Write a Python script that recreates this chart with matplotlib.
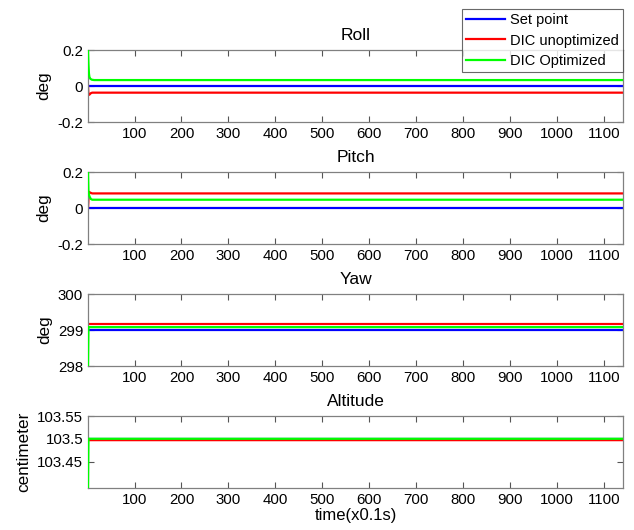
import matplotlib
matplotlib.use('Agg')
import matplotlib.pyplot as plt

plt.rcParams['font.family'] = ['Liberation Sans', 'DejaVu Sans']

# Roll (deg), time in x0.1s, only the points where the curves change
roll_t_set = [1, 1140]
roll_set = [0.0, 0.0]
roll_t_unopt = [1, 2, 4, 7, 10, 1140]
roll_unopt = [0.0, -0.05, -0.048, -0.04, -0.037, -0.037]
roll_t_opt = [1, 2, 3, 4, 6, 9, 14, 1140]
roll_opt = [0.2, 0.12, 0.07, 0.05, 0.04, 0.035, 0.033, 0.033]

# Pitch (deg)
pitch_t_set = [1, 1140]
pitch_set = [0.0, 0.0]
pitch_t_unopt = [1, 3, 6, 10, 1140]
pitch_unopt = [0.0, 0.09, 0.085, 0.081, 0.081]
pitch_t_opt = [1, 2, 4, 7, 10, 1140]
pitch_opt = [0.2, 0.09, 0.065, 0.05, 0.046, 0.046]

# Yaw (deg)
yaw_t_set = [1, 1140]
yaw_set = [299.0, 299.0]
yaw_t_unopt = [1, 2, 1140]
yaw_unopt = [299.17, 299.17, 299.17]
yaw_t_opt = [1, 2, 1140]
yaw_opt = [298.0, 299.08, 299.08]

# Altitude (centimeter)
alt_t_set = [1, 1140]
alt_set = [103.5, 103.5]
alt_t_unopt = [1, 2, 1140]
alt_unopt = [103.502, 103.497, 103.497]
alt_t_opt = [1, 2, 1140]
alt_opt = [103.392, 103.5, 103.5]

titles = ["Roll", "Pitch", "Yaw", "Altitude"]
ylabels = ["deg", "deg", "deg", "centimeter"]
ylims = [(-0.2, 0.2), (-0.2, 0.2), (298, 300), (103.392, 103.55)]
yticks = [[-0.2, 0, 0.2], [-0.2, 0, 0.2], [298, 299, 300], [103.45, 103.5, 103.55]]
yticklabels = [["-0.2", "0", "0.2"], ["-0.2", "0", "0.2"], ["298", "299", "300"],
               ["103.45", "103.5", "103.55"]]
xticks = [100, 200, 300, 400, 500, 600, 700, 800, 900, 1000, 1100]

series = [
    [(roll_t_set, roll_set), (roll_t_unopt, roll_unopt), (roll_t_opt, roll_opt)],
    [(pitch_t_set, pitch_set), (pitch_t_unopt, pitch_unopt), (pitch_t_opt, pitch_opt)],
    [(yaw_t_set, yaw_set), (yaw_t_unopt, yaw_unopt), (yaw_t_opt, yaw_opt)],
    [(alt_t_set, alt_set), (alt_t_unopt, alt_unopt), (alt_t_opt, alt_opt)],
]
names = ["Set point", "DIC unoptimized", "DIC Optimized"]
colors = ["#0000ff", "#ff0000", "#00ff00"]

fig = plt.figure(figsize=(6.34, 5.30), dpi=100)
left, width, height = 88 / 634, 535 / 634, 72 / 530
bottoms = [1 - 122 / 530, 1 - 244 / 530, 1 - 366 / 530, 1 - 488 / 530]

handles = []
for i in range(4):
    ax = fig.add_axes([left, bottoms[i], width, height])
    for j, (tt, yy) in enumerate(series[i]):
        ln, = ax.plot(tt, yy, color=colors[j], lw=1.6, zorder=2 + (j == 2))
        if i == 0:
            handles.append(ln)
    ax.set_xlim(1, 1140)
    ax.set_ylim(*ylims[i])
    ax.set_xticks(xticks)
    ax.set_yticks(yticks[i])
    ax.set_yticklabels(yticklabels[i])
    ax.set_title(titles[i], fontsize=12.5, pad=7)
    ax.set_ylabel(ylabels[i], fontsize=12.3, labelpad=4)
    ax.tick_params(direction='in', top=True, right=True, length=4,
                   labelsize=10.8, color='#555555', width=0.8)
    for sp in ax.spines.values():
        sp.set_color('#808080')
        sp.set_linewidth(0.9)
    if i == 3:
        ax.set_xlabel("time(x0.1s)", fontsize=12, labelpad=1)

leg = fig.legend(handles, names, loc='upper right', bbox_to_anchor=(623 / 634, 1 - 9 / 530),
                 fontsize=10.5, frameon=True, fancybox=False, borderpad=0.3,
                 labelspacing=0.42, handlelength=2.7, handletextpad=0.3, borderaxespad=0)
leg.get_frame().set_edgecolor('#444444')
leg.get_frame().set_linewidth(0.8)

fig.savefig("out.png", dpi=100)
